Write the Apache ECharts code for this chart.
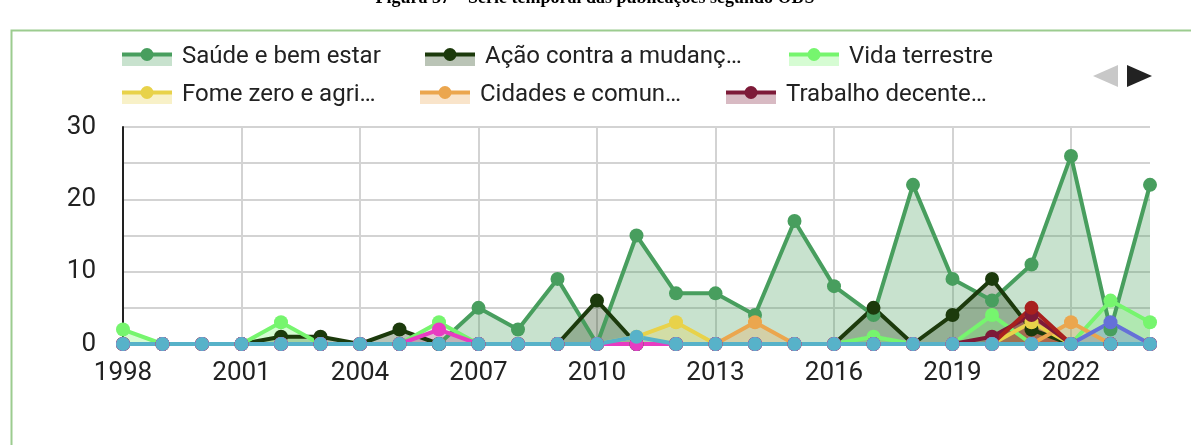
<!DOCTYPE html>
<html>
<head>
<meta charset="utf-8">
<title>Série temporal das publicações segundo ODS</title>
<script src="https://cdn.jsdelivr.net/npm/echarts@6/dist/echarts.min.js"></script>
<style>
  html, body { margin: 0; padding: 0; background: #fff; overflow: hidden; }
  #main { width: 1191px; height: 445px; }
</style>
</head>
<body>
<div id="main"></div>
<script type="text/javascript">
// anos (eixo x)
var years = ['1998','1999','2000','2001','2002','2003','2004','2005','2006','2007','2008','2009','2010',
             '2011','2012','2013','2014','2015','2016','2017','2018','2019','2020','2021','2022','2023','2024'];

// publicações por ODS, 1998..2024
var saude      = [0,0,0,0,0,0,0,0,0,5,2,9,0,15,7,7,4,17,8,4,22,9,6,11,26,2,22];
var acaoClima  = [0,0,0,0,1,1,0,2,0,0,0,0,6,0,0,0,0,0,0,5,0,4,9,2,0,0,0];
var vidaTerra  = [2,0,0,0,3,0,0,0,3,0,0,0,0,0,0,0,0,0,0,1,0,0,4,0,0,6,3];
var fomeZero   = [0,0,0,0,0,0,0,0,0,0,0,0,0,1,3,0,0,0,0,0,0,0,0,3,0,0,0];
var cidades    = [0,0,0,0,0,0,0,0,0,0,0,0,0,0,0,0,3,0,0,0,0,0,0,0,3,0,0];
var trabalho   = [0,0,0,0,0,0,0,0,0,0,0,0,0,0,0,0,0,0,0,0,0,0,1,4,0,0,0];
var educacao   = [0,0,0,0,0,0,0,0,0,0,0,0,0,0,0,0,0,0,0,0,0,0,0,5,0,0,0];
var vidaAgua   = [0,0,0,0,0,0,0,0,0,0,0,0,0,0,0,0,0,0,0,0,0,0,0,0,0,3,0];
var desigual   = [0,0,0,0,0,0,0,0,2,0,0,0,0,0,0,0,0,0,0,0,0,0,0,0,0,0,0];
var agua       = [0,0,0,0,0,0,0,0,0,0,0,0,0,1,0,0,0,0,0,0,0,0,0,0,0,0,0];

// nomes e rótulos da legenda (primeira página)
var names = ['Saúde e bem estar', 'Ação contra a mudança global do clima', 'Vida terrestre',
             'Fome zero e agricultura sustentável', 'Cidades e comunidades sustentáveis',
             'Trabalho decente e crescimento econômico',
             'Educação de qualidade', 'Vida na água', 'Redução das desigualdades', 'Água potável e saneamento'];
var legendLabels = ['Saúde e bem estar', 'Ação contra a mudanç…', 'Vida terrestre',
                    'Fome zero e agri…', 'Cidades e comun…', 'Trabalho decente…'];
var colors = ['#489e5e', '#1c3a0c', '#76f56e', '#e8d24a', '#eba64e', '#7d1a38',
              '#a8201e', '#6570d8', '#e83cc2', '#57b2c9'];
var values = [saude, acaoClima, vidaTerra, fomeZero, cidades, trabalho, educacao, vidaAgua, desigual, agua];

// ícone da legenda: linha + ponto + área clara
function legendIcon(c) {
    var svg = '<svg xmlns="http://www.w3.org/2000/svg" width="55" height="18">' +
        '<rect x="0" y="6.5" width="50" height="11.5" fill="' + c + '" fill-opacity="0.3"/>' +
        '<rect x="0" y="4.5" width="50" height="4" fill="' + c + '"/>' +
        '<circle cx="25" cy="6.5" r="6.5" fill="' + c + '"/></svg>';
    return 'image://data:image/svg+xml;charset=utf-8,' + encodeURIComponent(svg);
}

var legendPos = [[122, 45], [425, 45], [789, 45], [122, 83], [420, 83], [726, 83]];
var legends = [];
for (var i = 0; i < 6; i++) {
    legends.push({
        left: legendPos[i][0],
        top: legendPos[i][1],
        padding: 0,
        itemWidth: 55,
        itemHeight: 18,
        selectedMode: false,
        data: [{ name: names[i], icon: legendIcon(colors[i]) }],
        formatter: (function (k) { return function () { return legendLabels[k]; }; })(i),
        textStyle: { fontFamily: 'Roboto', fontSize: 24, color: '#222', lineHeight: 24 }
    });
}

var series = [];
for (var j = 0; j < values.length; j++) {
    series.push({
        name: names[j],
        type: 'line',
        data: values[j],
        symbol: 'circle',
        symbolSize: 14,
        showAllSymbol: true,
        lineStyle: { width: 4, color: colors[j] },
        itemStyle: { color: colors[j] },
        areaStyle: { color: colors[j], opacity: 0.3 }
    });
}

var myChart = echarts.init(document.getElementById('main'));

var option = {
    animation: false,
    legend: legends,
    grid: { left: 123, right: 41, top: 127, bottom: 101 },
    xAxis: {
        type: 'category',
        boundaryGap: false,
        data: years,
        axisTick: { show: false },
        axisLine: { lineStyle: { color: '#cccccc', width: 2 } },
        axisLabel: { interval: 2, margin: 16, fontFamily: 'Roboto', fontSize: 26, color: '#222' },
        splitLine: { show: true, interval: 2, lineStyle: { color: '#d3d3d3', width: 2 } }
    },
    yAxis: {
        type: 'value',
        min: 0,
        max: 30,
        interval: 5,
        axisTick: { show: false },
        axisLine: { show: true, lineStyle: { color: '#222', width: 2 } },
        axisLabel: {
            margin: 27, fontFamily: 'Roboto', fontSize: 26, color: '#222',
            formatter: function (v) { return v % 10 === 0 ? v : ''; }
        },
        splitLine: { lineStyle: { color: '#d3d3d3', width: 2 } }
    },
    graphic: [
        // moldura verde
        { type: 'rect', left: 9, top: 28, silent: true,
          shape: { width: 1300, height: 600 },
          style: { fill: 'none', stroke: '#9ccc8f', lineWidth: 2 } },
        // título da figura, cortado no topo
        { type: 'text', x: 595, y: -11, silent: true,
          style: { text: 'Figura 37 – Série temporal das publicações segundo ODS',
                   font: 'bold 18px "Liberation Serif"', fill: '#000', align: 'center', verticalAlign: 'top' } },
        // setas de paginação da legenda
        { type: 'polygon', silent: true, shape: { points: [[1118, 65], [1118, 87], [1093, 76]] }, style: { fill: '#c8c8c8' } },
        { type: 'polygon', silent: true, shape: { points: [[1127, 65], [1127, 87], [1152, 76]] }, style: { fill: '#222' } }
    ],
    series: series
};

myChart.setOption(option);
</script>
</body>
</html>
